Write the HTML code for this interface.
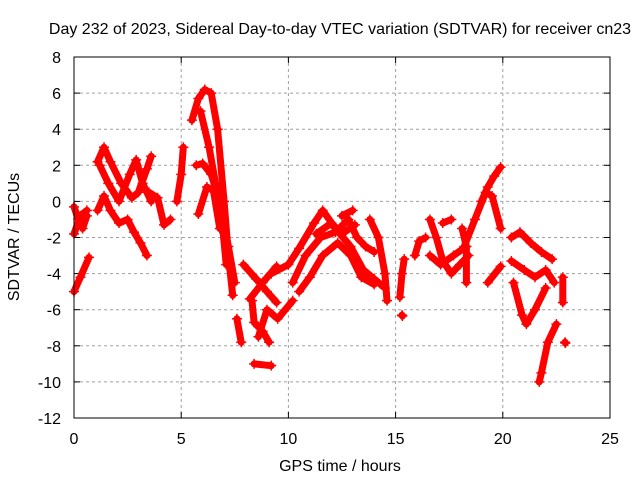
<!DOCTYPE html>
<html><head><meta charset="utf-8"><style>
body{margin:0;background:#fff}
svg{display:block;font-family:"Liberation Sans",sans-serif}
</style></head><body>
<svg id="c" width="640" height="480" xmlns="http://www.w3.org/2000/svg">
<text x="340" y="34" font-size="16" text-anchor="middle">Day 232 of 2023, Sidereal Day-to-day VTEC variation (SDTVAR) for receiver cn23</text>
<text x="340" y="471" font-size="16" text-anchor="middle">GPS time / hours</text>
<text transform="translate(19,237) rotate(-90)" font-size="16" text-anchor="middle">SDTVAR / TECUs</text>
<g id="grid"></g><g id="ticks"></g><g id="series"></g>
<rect x="74" y="57" width="536" height="361" fill="none" stroke="#000" stroke-width="1"/>
</svg>
<script>
const xTicks=[0,5,10,15,20,25];
const yTicks=[-12,-10,-8,-6,-4,-2,0,2,4,6,8];
const tracks=[
[[0,-0.3],[0.2,-1],[0.4,-1.5],[0.6,-0.8]],
[[0,-1.8],[0.3,-0.8],[0.6,-0.5]],
[[0,-5],[0.3,-4.2],[0.7,-3.1]],
[[1.1,2.2],[1.4,3.0],[1.7,2.2],[2.2,1.0],[2.7,0.2],[3.0,0.5],[3.4,1.8],[3.6,2.5]],
[[1.2,2.0],[1.6,1.0],[2.1,0.0],[2.6,1.5],[2.9,2.3],[3.2,1.0],[3.6,0]],
[[1.1,-0.5],[1.4,0.3],[1.7,-0.5],[2.1,-1.2],[2.5,-1.0],[2.8,-1.7],[3.1,-2.3],[3.4,-3.0]],
[[3.5,0.5],[3.9,0.2],[4.2,-1.3],[4.5,-1.0]],
[[4.8,0],[5.0,1.5],[5.1,3.0]],
[[5.5,4.5],[5.8,5.7],[6.1,6.2],[6.4,6.0],[6.7,4],[7.0,0],[7.2,-3],[7.4,-5.2]],
[[5.9,5.0],[6.3,3],[6.6,1],[6.9,-1],[7.1,-3.5]],
[[5.7,2],[6.0,2.1],[6.4,1.5],[6.8,0],[7.2,-2.5],[7.5,-4.5]],
[[5.8,-0.7],[6.2,0.8],[6.5,0.6],[6.8,-1.5]],
[[7.6,-6.5],[7.8,-7.8]],
[[7.9,-3.5],[8.5,-4.3],[9.0,-5.0],[9.45,-5.6]],
[[9.45,-3.6],[8.8,-4.5],[8.2,-5.4]],
[[8.3,-5.5],[8.4,-6.7],[8.8,-7.2],[9.1,-7.8]],
[[8.6,-7.5],[9.0,-6.0],[9.5,-6.5],[10.2,-5.5]],
[[8.4,-9],[9.2,-9.1]],
[[9.2,-4],[10,-3.5],[10.5,-2.6],[11.2,-1.2],[11.6,-0.5],[12.2,-1.5],[12.9,-2.5],[13.5,-3.8],[14,-4.3],[14.5,-4.8]],
[[10.2,-4.5],[10.8,-3],[11.5,-2],[12.2,-1.7],[12.8,-1.0],[13.2,-2],[13.6,-2.5],[14.0,-2.8]],
[[10.5,-5],[11,-4.2],[11.6,-3],[12.3,-2.3],[12.9,-3],[13.4,-4.2],[14,-4.6]],
[[11.3,-1.8],[12.0,-1.2],[12.5,-1.8],[13.1,-1.3]],
[[12.5,-0.8],[13.0,-0.5]],
[[13.8,-1],[14.2,-2],[14.5,-4],[14.6,-5.5]],
[[15.2,-5.3],[15.3,-4],[15.4,-3.2]],
[[15.3,-6.3],[15.32,-6.35]],
[[15.9,-3],[16.1,-2.2],[16.4,-2]],
[[16.6,-1],[16.9,-2.0],[17.2,-3.3],[17.6,-4.0],[18.0,-3.5],[18.4,-3.0]],
[[16.6,-3],[17.1,-3.5],[17.7,-3],[18.3,-2.5]],
[[17.2,-1.2],[17.6,-1.0]],
[[18.1,-1.5],[18.3,-2.5],[18.3,-4.5]],
[[18.2,-2.5],[18.7,-1],[19.2,0.5],[19.5,0.3],[19.9,-1.5]],
[[19.0,0],[19.3,0.8],[19.6,1.4],[19.9,1.9]],
[[19.3,-4.5],[19.9,-3.6]],
[[20.4,-2.0],[20.8,-1.7],[21.3,-2.3],[21.8,-2.8],[22.3,-3.2]],
[[20.4,-3.3],[21,-3.8],[21.5,-4.2],[22,-3.8],[22.4,-4.5]],
[[20.5,-4.5],[20.9,-6.3],[21.1,-6.8],[21.5,-6.0],[22,-4.8]],
[[21.7,-10],[21.8,-9.5],[22.1,-7.8],[22.5,-6.8]],
[[22.8,-4.2],[22.8,-5.6]],
[[22.9,-7.8],[22.92,-7.85]]
];
const L=74,R=610,T=57,B=418;
const X=t=>L+(t-0)/25*(R-L);
const Y=v=>B-(v+12)/20*(B-T);
const NS="http://www.w3.org/2000/svg";
function mk(tag,attrs,parent){const e=document.createElementNS(NS,tag);for(const k in attrs)e.setAttribute(k,attrs[k]);parent.appendChild(e);return e;}
const grid=document.getElementById('grid'),ticks=document.getElementById('ticks'),ser=document.getElementById('series');
xTicks.forEach(t=>{const x=X(t);
 if(t>0&&t<25){const g=mk('line',{x1:x,x2:x,y1:T,y2:B,stroke:'#a0a0a0','stroke-dasharray':'3,3'},grid);
 
 }
 mk('line',{x1:x,x2:x,y1:B,y2:B-6,stroke:'#000'},ticks);mk('line',{x1:x,x2:x,y1:T,y2:T+6,stroke:'#000'},ticks);
 const tx=mk('text',{x:x,y:B+26,'font-size':16,'text-anchor':'middle'},ticks);tx.textContent=t;
 
 
});
yTicks.forEach(v=>{const y=Y(v);
 if(v>-12&&v<8){const g=mk('line',{x1:L,x2:R,y1:y,y2:y,stroke:'#a0a0a0','stroke-dasharray':'3,3'},grid);
 
 }
 mk('line',{x1:L,x2:L+6,y1:y,y2:y,stroke:'#000'},ticks);mk('line',{x1:R,x2:R-6,y1:y,y2:y,stroke:'#000'},ticks);
 const tx=mk('text',{x:L-13,y:y+6,'font-size':16,'text-anchor':'end'},ticks);tx.textContent=v;
 
 
});
tracks.forEach(tr=>{
 const pts=tr.map(p=>X(p[0]).toFixed(1)+','+Y(p[1]).toFixed(1)).join(' ');
 const pl=mk('polyline',{points:pts,fill:'none',stroke:'#ff0000','stroke-width':7,'stroke-linejoin':'round','stroke-linecap':'round'},ser);
 
 
 tr.forEach(p=>{const x=X(p[0]),y=Y(p[1]);
  mk('path',{d:`M${x-5},${y}h10M${x},${y-5}v10`,stroke:'#ff0000','stroke-width':1.5},ser);});
});
</script>
</body></html>
